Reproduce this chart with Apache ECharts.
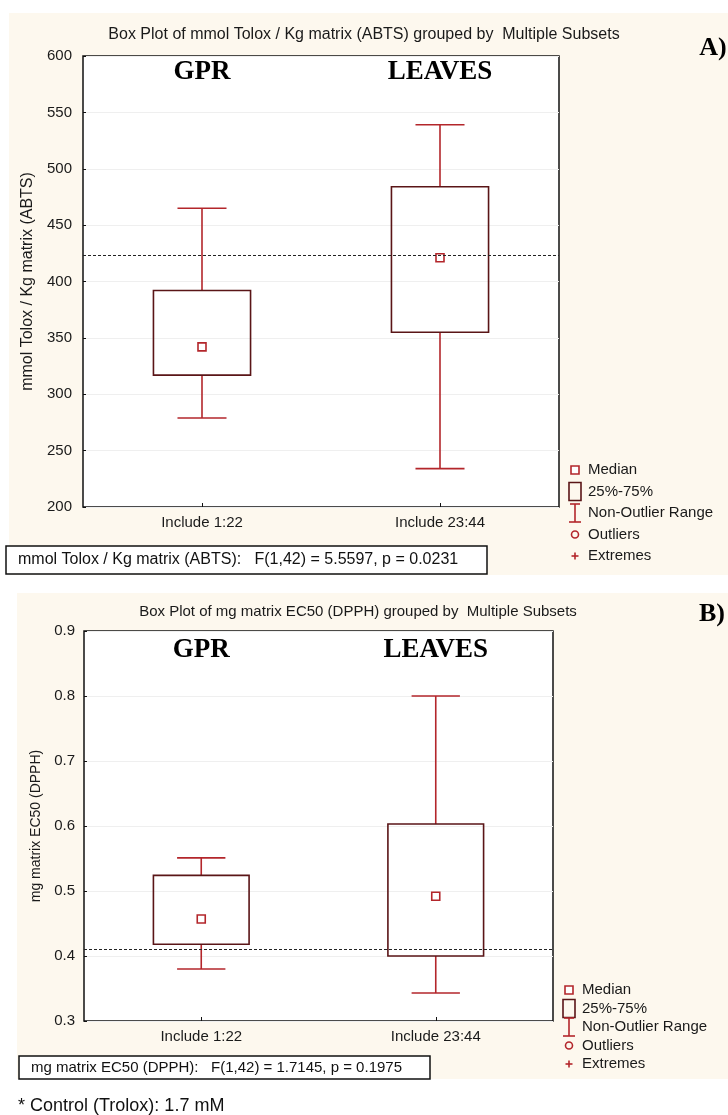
<!DOCTYPE html>
<html>
<head>
<meta charset="utf-8">
<script src="https://cdn.jsdelivr.net/npm/echarts@6/dist/echarts.min.js"></script>
<style>
  html, body { margin: 0; padding: 0; background: #fff; }
  #chart { width: 728px; height: 1115px; }
</style>
</head>
<body>
<div id="chart"></div>
<script>
// categories
const categories = ['Include 1:22', 'Include 23:44'];
const groups = ['GPR', 'LEAVES'];

// A) ABTS, mmol Trolox / Kg matrix
const abtsMin = [279, 234];
const abtsQ1 = [317, 355];
const abtsMedian = [342, 421];
const abtsQ3 = [392, 484];
const abtsMax = [465, 539];
const abtsControl = 423;

// B) DPPH, mg matrix EC50
const dpphMin = [0.38, 0.343];
const dpphQ1 = [0.418, 0.40];
const dpphMedian = [0.457, 0.492];
const dpphQ3 = [0.524, 0.603];
const dpphMax = [0.551, 0.80];
const dpphControl = 0.412;

const legendLabels = ['Median', '25%-75%', 'Non-Outlier Range', 'Outliers', 'Extremes'];

const RED = '#b3262b';
const DARK = '#5a1517';
const FONT = 'Liberation Sans, Arial, sans-serif';
const SERIF = 'Liberation Serif, Times New Roman, serif';

const boxData = (mn, q1, md, q3, mx) => categories.map((c, i) => [i, mn[i], q1[i], md[i], q3[i], mx[i]]);
const medianData = (md) => categories.map((c, i) => [i, md[i]]);

const renderBox = (params, api) => {
    const i = api.value(0);
    const pMin = api.coord([i, api.value(1)]);
    const pQ1 = api.coord([i, api.value(2)]);
    const pQ3 = api.coord([i, api.value(4)]);
    const pMax = api.coord([i, api.value(5)]);
    const band = api.size([1, 0])[0];
    const half = band * 0.204;
    const cap = band * 0.103;
    const cx = pQ1[0];
    const whisker = {stroke: RED, lineWidth: 1.6};
    return {
        type: 'group',
        children: [
            {type: 'line', shape: {x1: cx, y1: pQ3[1], x2: cx, y2: pMax[1]}, style: whisker},
            {type: 'line', shape: {x1: cx - cap, y1: pMax[1], x2: cx + cap, y2: pMax[1]}, style: whisker},
            {type: 'line', shape: {x1: cx, y1: pQ1[1], x2: cx, y2: pMin[1]}, style: whisker},
            {type: 'line', shape: {x1: cx - cap, y1: pMin[1], x2: cx + cap, y2: pMin[1]}, style: whisker},
            {
                type: 'rect',
                shape: {x: cx - half, y: pQ3[1], width: half * 2, height: pQ1[1] - pQ3[1]},
                style: {fill: 'none', stroke: DARK, lineWidth: 1.6}
            }
        ]
    };
};

// legend drawn by hand, like the original figure
const makeLegend = (x, y0, step) => {
    const items = [];
    legendLabels.forEach((label, k) => {
        const y = y0 + k * step;
        items.push({
            type: 'text', x: x + 13, y: y,
            style: {text: label, font: '15px ' + FONT, fill: '#1a1a1a', textVerticalAlign: 'middle'}
        });
    });
    const s = {stroke: RED, lineWidth: 1.6, fill: 'none'};
    items.push({type: 'rect', shape: {x: x - 4, y: y0 - 4, width: 8, height: 8}, style: {stroke: RED, lineWidth: 1.6, fill: '#fff'}});
    items.push({type: 'rect', shape: {x: x - 6, y: y0 + step - 9, width: 12, height: 18}, style: {stroke: DARK, lineWidth: 1.6, fill: 'none'}});
    const yn = y0 + 2 * step;
    items.push({type: 'line', shape: {x1: x - 5, y1: yn - 9, x2: x + 5, y2: yn - 9}, style: s});
    items.push({type: 'line', shape: {x1: x, y1: yn - 9, x2: x, y2: yn + 9}, style: s});
    items.push({type: 'line', shape: {x1: x - 6, y1: yn + 9, x2: x + 6, y2: yn + 9}, style: s});
    items.push({type: 'circle', shape: {cx: x, cy: y0 + 3 * step, r: 3.5}, style: {stroke: RED, lineWidth: 1.6, fill: 'none'}});
    const ye = y0 + 4 * step;
    items.push({type: 'line', shape: {x1: x - 3.5, y1: ye, x2: x + 3.5, y2: ye}, style: s});
    items.push({type: 'line', shape: {x1: x, y1: ye - 3.5, x2: x, y2: ye + 3.5}, style: s});
    return items;
};

const statBox = (x, y, w, h, text, size) => ([
    {type: 'rect', shape: {x: x, y: y, width: w, height: h}, style: {fill: '#fff', stroke: '#111', lineWidth: 1.5}, z: 5},
    {type: 'text', x: x + 12, y: y + h / 2, z: 6,
        style: {text: text, font: size + 'px ' + FONT, fill: '#111', textVerticalAlign: 'middle'}}
]);

const chart = echarts.init(document.getElementById('chart'));

const yAxisCommon = {
    type: 'value',
    axisLine: {show: false},
    axisTick: {show: true, inside: true, length: 3, lineStyle: {color: '#111'}},
    axisLabel: {color: '#1a1a1a', fontSize: 15, fontFamily: FONT},
    splitLine: {show: true, lineStyle: {color: '#efefef', width: 1}},
    nameLocation: 'middle',
    nameRotate: 90
};

const bottomAxis = (gridIndex) => ({
    type: 'category', gridIndex: gridIndex, position: 'bottom', data: categories,
    axisLine: {show: false},
    axisTick: {show: true, inside: true, length: 4, alignWithLabel: true, lineStyle: {color: '#111'}},
    axisLabel: {color: '#1a1a1a', fontSize: 15, fontFamily: FONT, margin: 8},
    splitLine: {show: false}
});

const topAxis = (gridIndex, margin) => ({
    type: 'category', gridIndex: gridIndex, position: 'top', data: groups,
    axisLine: {show: false},
    axisTick: {show: false},
    axisLabel: {inside: true, margin: margin, color: '#000', fontSize: 27, fontWeight: 'bold', fontFamily: SERIF},
    splitLine: {show: false}
});

const option = {
    backgroundColor: '#fff',
    animation: false,
    graphic: [
        {type: 'rect', z: -10, shape: {x: 9, y: 13, width: 719, height: 562}, style: {fill: '#fdf8ee'}},
        {type: 'rect', z: -10, shape: {x: 17, y: 593, width: 711, height: 486}, style: {fill: '#fdf8ee'}},
        {type: 'text', x: 364, y: 35, style: {text: 'Box Plot of mmol Tolox / Kg matrix (ABTS) grouped by  Multiple Subsets',
            font: '16px ' + FONT, fill: '#1a1a1a', textAlign: 'center', textVerticalAlign: 'middle'}},
        {type: 'text', x: 713, y: 48, style: {text: 'A)', font: 'bold 26px ' + SERIF, fill: '#000', textAlign: 'center', textVerticalAlign: 'middle'}},
        {type: 'text', x: 358, y: 612, style: {text: 'Box Plot of mg matrix EC50 (DPPH) grouped by  Multiple Subsets',
            font: '15px ' + FONT, fill: '#1a1a1a', textAlign: 'center', textVerticalAlign: 'middle'}},
        {type: 'text', x: 712, y: 614, style: {text: 'B)', font: 'bold 26px ' + SERIF, fill: '#000', textAlign: 'center', textVerticalAlign: 'middle'}},
        ...statBox(6, 546, 481, 28, 'mmol Tolox / Kg matrix (ABTS):   F(1,42) = 5.5597, p = 0.0231', 16),
        ...statBox(19, 1056, 411, 23, 'mg matrix EC50 (DPPH):   F(1,42) = 1.7145, p = 0.1975', 15),
        ...makeLegend(575, 470, 21.5),
        ...makeLegend(569, 990, 18.5),
        {type: 'text', x: 18, y: 1106, style: {text: '* Control (Trolox): 1.7 mM', font: '18px ' + FONT, fill: '#111', textVerticalAlign: 'middle'}}
    ],
    grid: [
        {left: 83, top: 56, width: 476, height: 451, show: true, backgroundColor: '#fff', borderColor: '#111', borderWidth: 1.5},
        {left: 84, top: 631, width: 469, height: 390, show: true, backgroundColor: '#fff', borderColor: '#111', borderWidth: 1.5}
    ],
    xAxis: [bottomAxis(0), topAxis(0, 3), bottomAxis(1), topAxis(1, 6)],
    yAxis: [
        Object.assign({}, yAxisCommon, {
            gridIndex: 0, min: 200, max: 600, interval: 50,
            name: 'mmol Tolox / Kg matrix (ABTS)', nameGap: 46,
            nameTextStyle: {fontSize: 16, fontFamily: FONT, color: '#1a1a1a'},
            axisLabel: Object.assign({}, yAxisCommon.axisLabel, {margin: 11})
        }),
        Object.assign({}, yAxisCommon, {
            gridIndex: 1, min: 0.3, max: 0.9, interval: 0.1,
            name: 'mg matrix EC50 (DPPH)', nameGap: 41,
            nameTextStyle: {fontSize: 14, fontFamily: FONT, color: '#1a1a1a'},
            axisLabel: Object.assign({}, yAxisCommon.axisLabel, {margin: 9, formatter: v => v.toFixed(1)})
        })
    ],
    series: [
        {
            type: 'custom', xAxisIndex: 0, yAxisIndex: 0, z: 3,
            renderItem: renderBox, encode: {x: 0, y: [1, 2, 3, 4, 5]},
            data: boxData(abtsMin, abtsQ1, abtsMedian, abtsQ3, abtsMax)
        },
        {
            type: 'scatter', xAxisIndex: 0, yAxisIndex: 0, z: 4,
            symbol: 'rect', symbolSize: 8,
            itemStyle: {color: '#fff', borderColor: RED, borderWidth: 1.6, opacity: 1},
            data: medianData(abtsMedian),
            markLine: {
                silent: true, symbol: ['none', 'none'], label: {show: false},
                lineStyle: {color: '#222', type: [3, 2], width: 1},
                data: [{yAxis: abtsControl}]
            }
        },
        {
            type: 'custom', xAxisIndex: 2, yAxisIndex: 1, z: 3,
            renderItem: renderBox, encode: {x: 0, y: [1, 2, 3, 4, 5]},
            data: boxData(dpphMin, dpphQ1, dpphMedian, dpphQ3, dpphMax)
        },
        {
            type: 'scatter', xAxisIndex: 2, yAxisIndex: 1, z: 4,
            symbol: 'rect', symbolSize: 8,
            itemStyle: {color: '#fff', borderColor: RED, borderWidth: 1.6, opacity: 1},
            data: medianData(dpphMedian),
            markLine: {
                silent: true, symbol: ['none', 'none'], label: {show: false},
                lineStyle: {color: '#222', type: [3, 2], width: 1},
                data: [{yAxis: dpphControl}]
            }
        }
    ]
};

chart.setOption(option);
</script>
</body>
</html>
